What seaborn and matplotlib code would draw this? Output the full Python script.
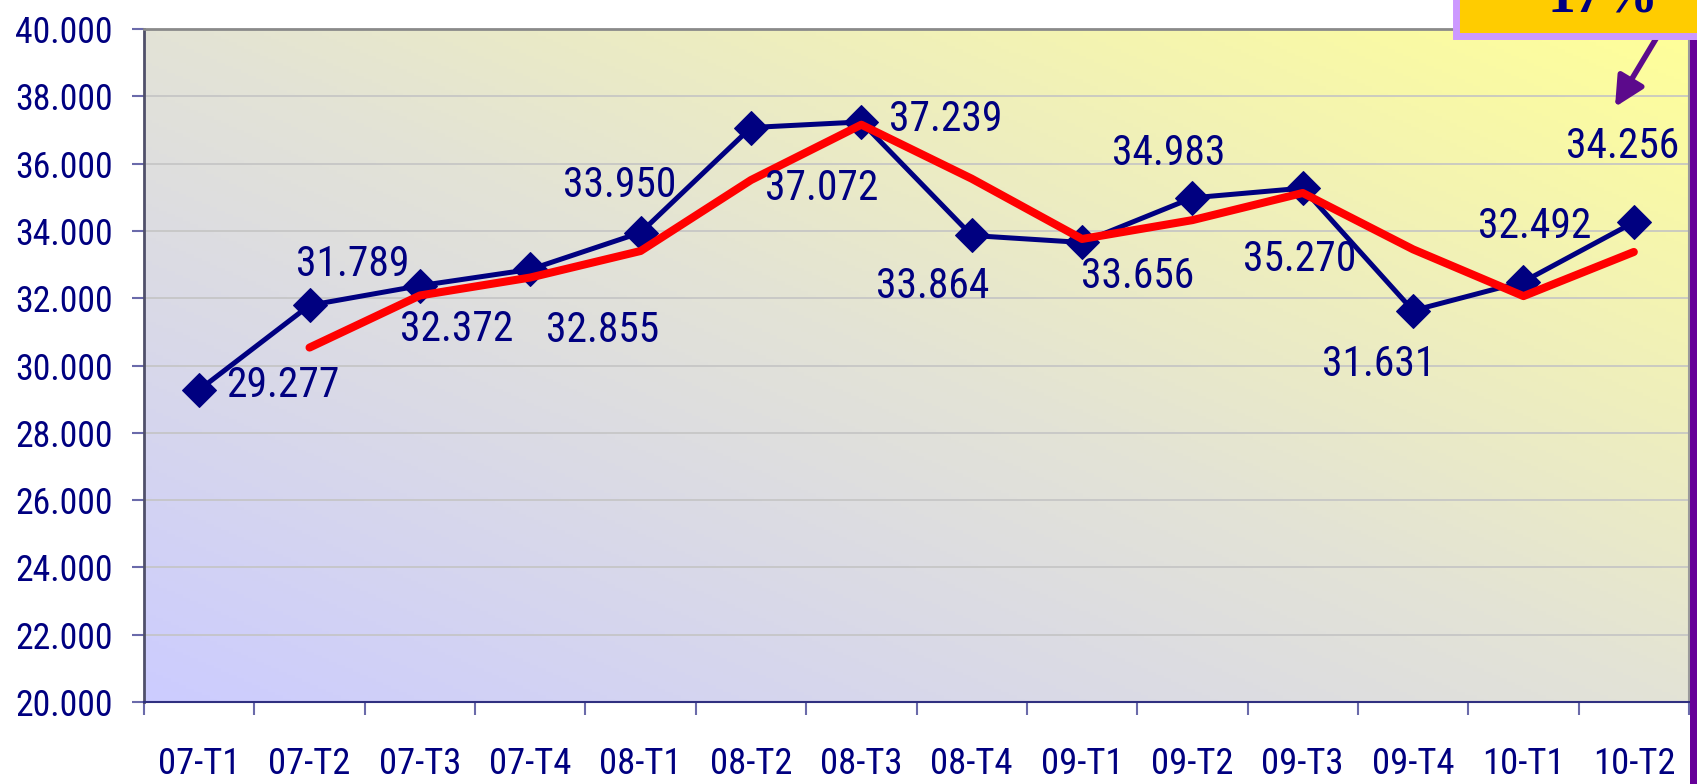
import numpy as np
import pandas as pd
import matplotlib
matplotlib.use("Agg")
import matplotlib.pyplot as plt
import seaborn as sns
from matplotlib import font_manager as fm
from matplotlib.patches import Rectangle
from matplotlib.colors import LinearSegmentedColormap

# ---------------- data ----------------
quarters = ["07-T1", "07-T2", "07-T3", "07-T4", "08-T1", "08-T2", "08-T3",
            "08-T4", "09-T1", "09-T2", "09-T3", "09-T4", "10-T1", "10-T2"]
values = [29277, 31789, 32372, 32855, 33950, 37072, 37239,
          33864, 33656, 34983, 35270, 31631, 32492, 34256]
moving_avg = [np.nan, 30533, 32081, 32614, 33403, 35511, 37156,
              35552, 33760, 34320, 35127, 33451, 32062, 33374]
yticks = [20000, 22000, 24000, 26000, 28000, 30000, 32000,
          34000, 36000, 38000, 40000]
callout_text = "17%"

# label offsets (pixels) for the value labels
label_offsets = [(84, 4), (43, 41), (37, -44), (72, -61), (-21, 47), (71, -61),
                 (84, 2), (-39, -51), (56, -34), (-24, 44), (-3, -71),
                 (-34, -54), (11, 55), (-11, 76)]


def fmt(v):
    return f"{v:,}".replace(",", ".")


sns.set_style("white")

# choose the narrowest available sans font
fonts = fm.fontManager.ttflist
names = {f.name for f in fonts}
family, stretch = "DejaVu Sans", "normal"
for cand in ["Liberation Sans Narrow", "Roboto Condensed", "Open Sans Condensed",
             "Noto Sans Condensed", "DejaVu Sans Condensed"]:
    if cand in names:
        family = cand
        break
else:
    cond = [f for f in fonts if f.name == "DejaVu Sans" and
            str(f.stretch) in ("condensed", "semi-condensed", "75", "87.5")]
    if cond:
        stretch = "condensed"
    else:
        for cand in ["Roboto", "Liberation Sans"]:
            if cand in names:
                family = cand
                break

plt.rcParams["font.family"] = [family, "DejaVu Sans"]
plt.rcParams["font.stretch"] = stretch

NAVY = "#000080"
W, H = 1697, 784
fig = plt.figure(figsize=(W / 100, H / 100), dpi=100)
fig.patch.set_facecolor("white")
renderer = fig.canvas.get_renderer()


def fit_size(text, target_px, max_pt):
    t = fig.text(0, 0, text, fontsize=10)
    w = t.get_window_extent(renderer).width
    t.remove()
    return min(max_pt, 10 * target_px / w)


tick_fs = fit_size("40.000", 97, 30)
xtick_fs = fit_size("07-T1", 82, 30)
lab_fs = fit_size("31.789", 113, 35)

ax = fig.add_axes([144 / W, 82 / H, 1545 / W, 673 / H])

# gradient background
xs = np.linspace(0, 1, 400)
ys = np.linspace(0, 1, 200)
X, Y = np.meshgrid(xs, ys)
T = (X + Y) / 2
cmap = LinearSegmentedColormap.from_list(
    "bg", [(0, "#ccccff"), (0.5, "#e3e3d6"), (1, "#ffff99")])
ax.imshow(T, extent=[0, 1, 0, 1], transform=ax.transAxes, origin="lower",
          aspect="auto", cmap=cmap, zorder=0)

df = pd.DataFrame({"pos": np.arange(len(quarters)), "value": values,
                   "ma": moving_avg})

sns.lineplot(data=df, x="pos", y="value", color=NAVY, lw=3.6, marker="D",
             markersize=17, markeredgecolor=NAVY, markerfacecolor=NAVY,
             ax=ax, zorder=3)
sns.lineplot(data=df.dropna(), x="pos", y="ma", color="#ff0000", lw=5.8,
             ax=ax, zorder=4, solid_capstyle="round", solid_joinstyle="round")

for i, (v, off) in enumerate(zip(values, label_offsets)):
    ax.annotate(fmt(v), (i, v), xytext=off, textcoords="offset pixels",
                ha="center", va="center", fontsize=lab_fs, color=NAVY,
                zorder=5)

ax.set_xlim(-0.5, len(quarters) - 0.5)
ax.set_ylim(yticks[0], yticks[-1])
ax.set_xlabel("")
ax.set_ylabel("")

ax.set_yticks(yticks, labels=[fmt(t) for t in yticks])
ax.set_xticks(np.arange(len(quarters)), labels=quarters)
ax.set_xticks(np.arange(-0.5, len(quarters), 1), minor=True)
ax.tick_params(axis="x", which="major", length=0, pad=32, labelsize=xtick_fs,
               labelcolor=NAVY)
ax.tick_params(axis="x", which="minor", length=9.5, width=1.5,
               color="#6a6aaa", direction="out", bottom=True)
ax.tick_params(axis="y", length=8.6, width=1.5, color="#6a6aaa", pad=14,
               labelsize=tick_fs, labelcolor=NAVY, left=True)

ax.yaxis.grid(True, color="#c4c4c4", lw=1.2)
ax.xaxis.grid(False)
ax.set_axisbelow(True)

ax.spines["top"].set_color("#8a8a8a")
ax.spines["top"].set_linewidth(2)
ax.spines["right"].set_color("#9a9a9a")
ax.spines["right"].set_linewidth(1.5)
ax.spines["left"].set_color("#50506a")
ax.spines["left"].set_linewidth(2)
ax.spines["bottom"].set_color("#303080")
ax.spines["bottom"].set_linewidth(1.5)

# right purple strip
fig.add_artist(Rectangle((1690 / W, 0), 12 / W, (H - 40) / H,
                         transform=fig.transFigure, facecolor="#660099",
                         edgecolor="none", zorder=10))
# callout box (cut at top)
fig.add_artist(Rectangle((1456 / W, (H - 36) / H), 300 / W, 100 / H,
                         transform=fig.transFigure, facecolor="#ffcc00",
                         edgecolor="#cc99ff", lw=5, zorder=11))
fig.text(1603 / W, (H - 12) / H, callout_text, ha="center", va="baseline",
         fontsize=40, fontweight="bold", family="Liberation Serif",
         stretch="normal", color=NAVY, zorder=12)
ax.annotate("", xy=(1615 / W, 1 - 107 / H), xytext=(1660 / W, 1 - 32 / H),
            xycoords="figure fraction", textcoords="figure fraction",
            arrowprops=dict(arrowstyle="-|>,head_length=0.9,head_width=0.45",
                            mutation_scale=20, lw=4, color="#5c0a8c",
                            shrinkA=0, shrinkB=0),
            zorder=12, annotation_clip=False)

fig.savefig("out.png", dpi=100, facecolor="white")
